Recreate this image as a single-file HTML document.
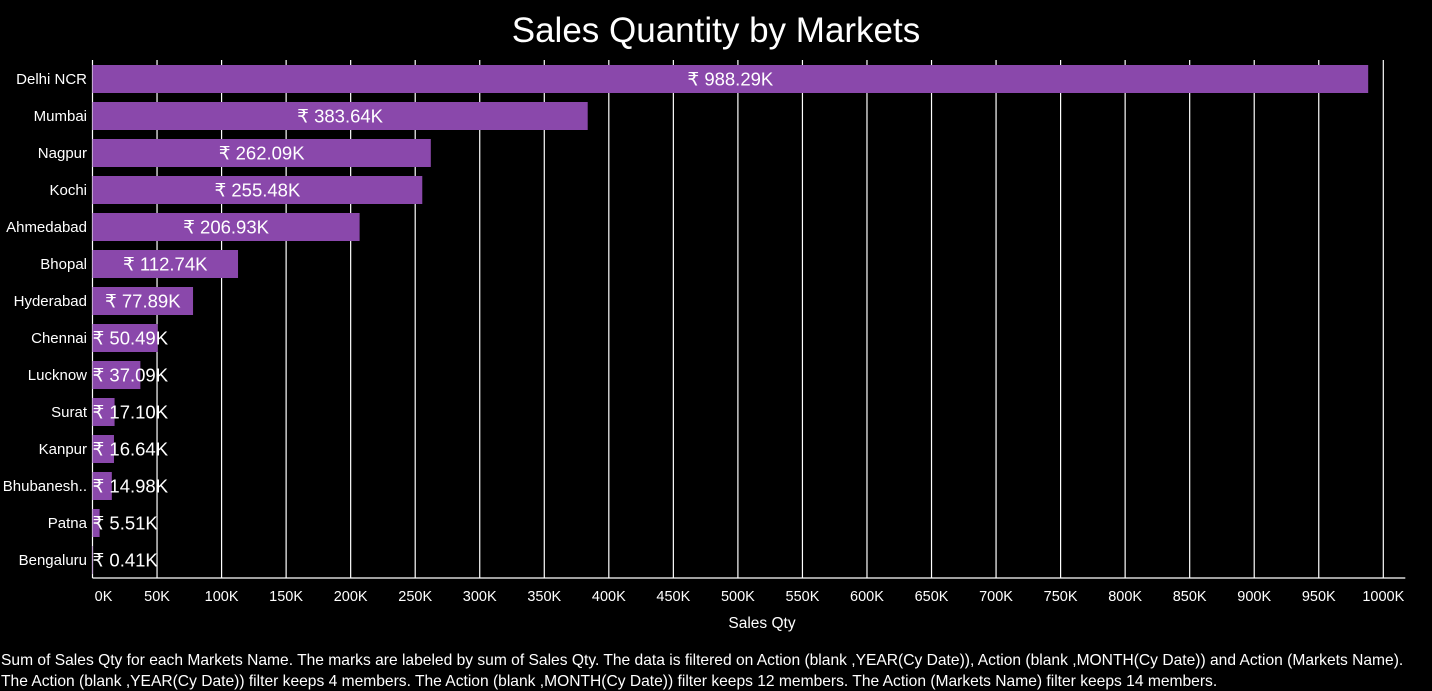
<!DOCTYPE html>
<html><head><meta charset="utf-8"><style>
html,body{margin:0;padding:0;background:#000;width:1432px;height:691px;overflow:hidden}
svg{display:block;font-family:"Liberation Sans","DejaVu Sans",sans-serif}
</style></head><body>
<svg id="chart" width="1432" height="691" viewBox="0 0 1432 691">
<text x="716" y="42" fill="#fff" font-size="35" text-anchor="middle">Sales Quantity by Markets</text>
<g id="grid"></g><g id="bars"></g><g id="labels"></g><g id="ticks"></g>
<text x="762" y="628" fill="#fff" font-size="15.5" text-anchor="middle">Sales Qty</text>
<text x="1" y="665" fill="#fff" font-size="15.6">Sum of Sales Qty for each Markets Name.  The marks are labeled by sum of Sales Qty. The data is filtered on Action (blank ,YEAR(Cy Date)), Action (blank ,MONTH(Cy Date)) and Action (Markets Name).</text>
<text x="1" y="686" fill="#fff" font-size="15.6">The Action (blank ,YEAR(Cy Date)) filter keeps 4 members. The Action (blank ,MONTH(Cy Date)) filter keeps 12 members. The Action (Markets Name) filter keeps 14 members.</text>
</svg>
<script>
const categories=["Delhi NCR","Mumbai","Nagpur","Kochi","Ahmedabad","Bhopal","Hyderabad","Chennai","Lucknow","Surat","Kanpur","Bhubanesh..","Patna","Bengaluru"];
const values=[988.29,383.64,262.09,255.48,206.93,112.74,77.89,50.49,37.09,17.10,16.64,14.98,5.51,0.41];
const tickValues=[0,50,100,150,200,250,300,350,400,450,500,550,600,650,700,750,800,850,900,950,1000];
const NS="http://www.w3.org/2000/svg";
const x0=92.5,x1=1383.3,yTop=60,yAxis=578,row0=79,step=37,bh=28;
const x=v=>x0+(v/1000)*(x1-x0);
const y=i=>row0+i*step;
function mk(tag,attrs,parent,txt){const e=document.createElementNS(NS,tag);for(const k in attrs)e.setAttribute(k,attrs[k]);if(txt!==undefined)e.textContent=txt;document.getElementById(parent).appendChild(e);return e;}
tickValues.forEach((t,i)=>{
  if(t>0){const g=mk('line',{x1:x(t),x2:x(t),y1:yTop,y2:yAxis,stroke:'#fff','stroke-width':1.2},'grid');
  
  }
  const tl=mk('text',{x:t===0?x(t)+11:x(t),y:601,fill:'#fff','font-size':14.5,'text-anchor':'middle'},'ticks',t+'K');
  
  
});
const ax=mk('line',{x1:x0,x2:x1+22,y1:yAxis,y2:yAxis,stroke:'#fff','stroke-width':1.2},'grid');


const ay=mk('line',{x1:x0,x2:x0,y1:yTop,y2:yAxis,stroke:'#fff','stroke-width':1.2},'grid');


categories.forEach((c,i)=>{
  const cy=y(i);
  const r=mk('rect',{x:x0,y:cy-bh/2,width:Math.max(0.5,x(values[i])-x0),height:bh,fill:'#8a48ab'},'bars');
  
  
  const cl=mk('text',{x:87,y:cy+5,fill:'#fff','font-size':15,'text-anchor':'end'},'labels',c);
  
  
  const txt='₹ '+values[i].toFixed(2)+'K';
  const w=x(values[i])-x0;
  const inside=w>100;
  const vl=mk('text',{x:inside?x0+w/2:x0,y:cy+6.5,fill:'#fff','font-size':18.5,'text-anchor':inside?'middle':'start'},'labels',txt);
  
  
});
</script>
</body></html>
